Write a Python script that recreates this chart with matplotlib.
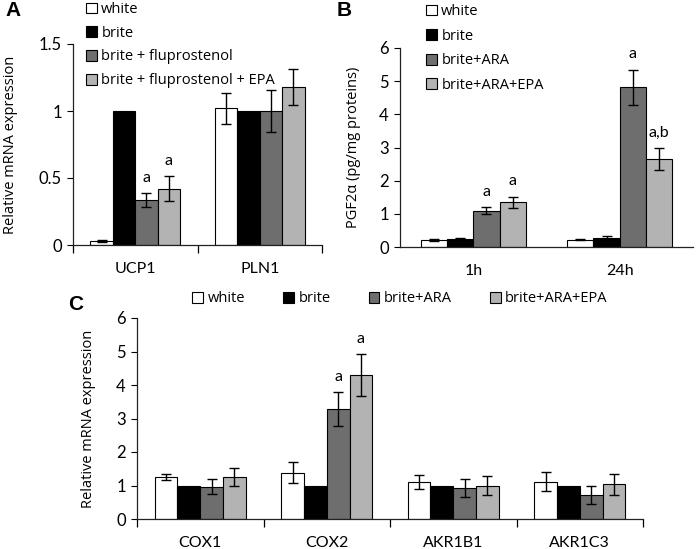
import numpy as np
import matplotlib
matplotlib.use("Agg")
import matplotlib.pyplot as plt
from matplotlib.patches import Patch

# ---- Data ----
COLORS = ["white", "black", "#6e6e6e", "#b3b3b3"]

a_cats = ["UCP1", "PLN1"]
a_series = ["white", "brite", "brite + fluprostenol", "brite + fluprostenol + EPA"]
a_vals = [[0.03, 1.02], [1.0, 1.0], [0.335, 1.0], [0.42, 1.18]]
a_errs = [[0.005, 0.115], [0, 0], [0.05, 0.155], [0.095, 0.135]]
a_sig = [(2, 0, "a"), (3, 0, "a")]

b_cats = ["1h", "24h"]
b_series = ["white", "brite", "brite+ARA", "brite+ARA+EPA"]
b_vals = [[0.2, 0.22], [0.25, 0.27], [1.1, 4.82], [1.35, 2.65]]
b_errs = [[0.03, 0.02], [0.02, 0.07], [0.1, 0.53], [0.17, 0.32]]
b_sig = [(2, 0, "a"), (3, 0, "a"), (2, 1, "a"), (3, 1, "a,b")]

c_cats = ["COX1", "COX2", "AKR1B1", "AKR1C3"]
c_series = ["white", "brite", "brite+ARA", "brite+ARA+EPA"]
c_vals = [[1.25, 1.38, 1.11, 1.11], [1.0, 1.0, 1.0, 1.0],
          [0.97, 3.28, 0.93, 0.72], [1.25, 4.3, 1.0, 1.04]]
c_errs = [[0.1, 0.31, 0.21, 0.28], [0, 0, 0, 0],
          [0.21, 0.51, 0.27, 0.27], [0.27, 0.63, 0.29, 0.31]]
c_sig = [(2, 1, "a"), (3, 1, "a")]

W, H = 697, 549
TICKFONT = "Lato"
TEXTFONT = "Open Sans"


def px_axes(fig, left, top, right, bottom):
    return fig.add_axes([left / W, 1 - bottom / H, (right - left) / W, (bottom - top) / H])


def bars(ax, cats, vals, errs, sig, width=0.18):
    x = np.arange(len(cats))
    for i, (v, e) in enumerate(zip(vals, errs)):
        pos = x + (i - 1.5) * width
        ax.bar(pos, v, width, color=COLORS[i], edgecolor="black", linewidth=0.8, zorder=2)
        for p, vv, ee in zip(pos, v, e):
            if ee > 0:
                ax.errorbar(p, vv, yerr=ee, color="black", capsize=3.5, elinewidth=1,
                            capthick=1, zorder=3)
    for i, j, t in sig:
        top = vals[i][j] + errs[i][j]
        ax.annotate(t, (x[j] + (i - 1.5) * width, top), xytext=(0, 11),
                    textcoords="offset points", ha="center", va="center",
                    fontsize=11.5, family=TICKFONT)
    ax.set_xlim(-0.5, len(cats) - 0.5)
    ax.set_xticks(x)
    ax.set_xticklabels(cats, family=TICKFONT, fontsize=11.5)
    ax.tick_params(axis="x", length=0, pad=12)
    ax.tick_params(axis="y", direction="out", length=4, width=0.8, labelsize=12, pad=4)
    for lab in ax.get_yticklabels():
        lab.set_family(TICKFONT)
    for s in ["top", "right"]:
        ax.spines[s].set_visible(False)
    for s in ["left", "bottom"]:
        ax.spines[s].set_linewidth(0.9)
        ax.spines[s].set_color("#222222")


def boundary_ticks(ax, n):
    ax.set_xticks(np.arange(n + 1) - 0.5, minor=True)
    ax.tick_params(axis="x", which="minor", direction="out", length=6, width=0.9)


def handles(names):
    return [Patch(facecolor=COLORS[i], edgecolor="black", linewidth=0.8, label=n)
            for i, n in enumerate(names)]


fig = plt.figure(figsize=(W / 100, H / 100), dpi=100)

# ---- Panel A ----
axA = px_axes(fig, 73, 44, 322, 245)
bars(axA, a_cats, a_vals, a_errs, a_sig)
boundary_ticks(axA, len(a_cats))
axA.set_ylim(0, 1.5)
axA.set_yticks([0, 0.5, 1, 1.5])
axA.set_yticklabels(["0", "0.5", "1", "1.5"])
axA.set_ylabel("Relative mRNA expression", family=TEXTFONT, fontsize=10.5)
axA.yaxis.set_label_coords(-0.22, 0.5)
fig.legend(handles=handles(a_series), loc="upper left", bbox_to_anchor=(86 / W, 1 - 2 / H),
           frameon=False, borderpad=0, borderaxespad=0, handlelength=0.75,
           handleheight=0.75, handletextpad=0.3, labelspacing=0.6,
           prop={"family": TEXTFONT, "size": 10.5})
fig.text(13 / W, 1 - 11 / H, "A", fontsize=15, fontweight="bold",
         family="Liberation Sans", ha="center", va="center")

# ---- Panel B ----
axB = px_axes(fig, 400, 48, 693, 247)
bars(axB, b_cats, b_vals, b_errs, b_sig)
axB.set_ylim(0, 6)
axB.set_yticks(range(7))
axB.set_ylabel("PGF2α (pg/mg proteins)", family=TEXTFONT, fontsize=10.5)
axB.yaxis.set_label_coords(-0.133, 0.5)
fig.legend(handles=handles(b_series), loc="upper left", bbox_to_anchor=(426 / W, 1 - 4 / H),
           frameon=False, borderpad=0, borderaxespad=0, handlelength=0.75,
           handleheight=0.75, handletextpad=0.3, labelspacing=0.66,
           prop={"family": TEXTFONT, "size": 10.5})
fig.text(344 / W, 1 - 11 / H, "B", fontsize=15, fontweight="bold",
         family="Liberation Sans", ha="center", va="center")

# ---- Panel C ----
axC = px_axes(fig, 137, 318, 643, 519)
bars(axC, c_cats, c_vals, c_errs, c_sig)
boundary_ticks(axC, len(c_cats))
axC.set_ylim(0, 6)
axC.set_yticks(range(7))
axC.set_ylabel("Relative mRNA expression", family=TEXTFONT, fontsize=10.5)
axC.yaxis.set_label_coords(-0.081, 0.5)
fig.legend(handles=handles(c_series), loc="center", bbox_to_anchor=(400 / W, 1 - 299 / H),
           ncol=4, frameon=False, borderpad=0, borderaxespad=0, handlelength=0.75,
           handleheight=0.75, handletextpad=0.3, columnspacing=2.6,
           prop={"family": TEXTFONT, "size": 10.5})
fig.text(76 / W, 1 - 304 / H, "C", fontsize=15, fontweight="bold",
         family="Liberation Sans", ha="center", va="center")

fig.savefig("out.png", dpi=100)
